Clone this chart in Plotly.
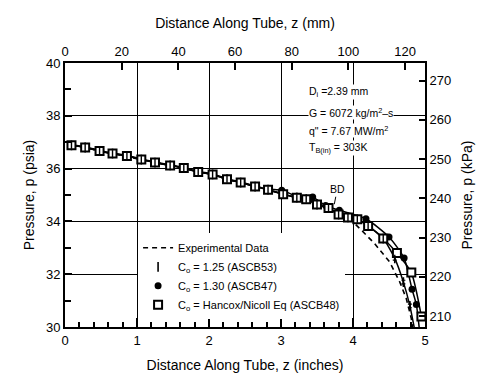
import plotly.graph_objects as go

# ---- data: distance along tube z (inches), pressure p (psia) ----
z_exp = [0.09, 0.28, 0.48, 0.66, 0.86, 1.06, 1.25, 1.46, 1.65, 1.85, 2.05, 2.25, 2.44, 2.64,
         2.82, 3.03, 3.22, 3.42, 3.62, 3.86, 4.00, 4.12, 4.30, 4.51, 4.65, 4.74, 4.81, 4.84]
p_exp = [36.88, 36.80, 36.67, 36.57, 36.48, 36.34, 36.23, 36.12, 36.02, 35.87, 35.78, 35.60, 35.47, 35.32,
         35.20, 35.03, 34.90, 34.78, 34.55, 34.20, 33.98, 33.66, 33.16, 32.46, 31.70, 31.08, 30.32, 29.70]

# C0 = Hancox/Nicoll Eq (ASCB48)
z_hn = [0.09, 0.28, 0.48, 0.66, 0.86, 1.06, 1.25, 1.46, 1.65, 1.85, 2.05, 2.25, 2.44, 2.64,
        2.82, 3.03, 3.22, 3.35, 3.50, 3.66, 3.80, 3.93, 4.06, 4.21, 4.42, 4.61, 4.81, 4.95]
p_hn = [36.88, 36.80, 36.67, 36.57, 36.48, 36.34, 36.23, 36.12, 36.02, 35.87, 35.78, 35.60, 35.47, 35.32,
        35.20, 35.03, 34.90, 34.84, 34.64, 34.51, 34.26, 34.15, 34.08, 33.83, 33.35, 32.80, 32.06, 30.40]

# C0 = 1.30 (ASCB47)
z_130 = [0.09, 0.28, 0.48, 0.66, 0.86, 1.06, 1.25, 1.46, 1.65, 1.85, 2.05, 2.25, 2.44, 2.64,
         2.82, 3.01, 3.22, 3.44, 3.62, 3.81, 4.18, 4.50, 4.71, 4.82, 4.88, 4.93]
p_130 = [36.90, 36.82, 36.69, 36.59, 36.50, 36.36, 36.25, 36.14, 36.04, 35.89, 35.80, 35.62, 35.49, 35.34,
         35.22, 35.18, 34.95, 34.92, 34.60, 34.42, 34.10, 33.41, 32.61, 31.43, 30.85, 29.70]

# C0 = 1.25 (ASCB53)
z_125 = [0.09, 0.28, 0.48, 0.66, 0.86, 1.06, 1.25, 1.46, 1.65, 1.85, 2.05, 2.25, 2.44, 2.64,
         2.82, 3.03, 3.22, 3.35, 3.50, 3.66, 3.80, 3.93, 4.06, 4.21, 4.42, 4.58, 4.70, 4.79, 4.87]
p_125 = [36.88, 36.80, 36.67, 36.57, 36.48, 36.34, 36.23, 36.12, 36.02, 35.87, 35.78, 35.60, 35.47, 35.32,
         35.20, 35.03, 34.90, 34.84, 34.64, 34.51, 34.26, 34.15, 34.08, 33.83, 33.35, 32.60, 31.70, 30.80, 29.70]

x_ticks_in = [0, 1, 2, 3, 4, 5]
x_ticks_mm = [0, 20, 40, 60, 80, 100, 120]
y_ticks_psia = [30, 32, 34, 36, 38, 40]
y_ticks_kpa = [210, 220, 230, 240, 250, 260, 270]

info_lines = ["D<sub>i</sub> =2.39 mm",
              "G = 6072 kg/m<sup>2</sup>–s",
              "q\" = 7.67 MW/m<sup>2</sup>",
              "T<sub>B(in)</sub> = 303K"]
info_y = [38.89, 38.13, 37.45, 36.77]

FONT = "Liberation Sans"
fig = go.Figure()

# Experimental dashed
fig.add_trace(go.Scatter(x=z_exp, y=p_exp, mode="lines", name="Experimental Data",
                         line=dict(color="black", width=1.6, dash="5px,4px")))
# model curves (lines)
for zz, pp in [(z_130, p_130), (z_125, p_125), (z_hn, p_hn)]:
    fig.add_trace(go.Scatter(x=zz, y=pp, mode="lines", showlegend=False,
                             line=dict(color="black", width=1.5, shape="spline", smoothing=0.6)))
# markers
fig.add_trace(go.Scatter(x=z_125, y=p_125, mode="markers", name="C<sub>o</sub> = 1.25 (ASCB53)",
                         marker=dict(symbol="line-ns-open", size=7, color="black",
                                     line=dict(color="black", width=1.6)),
                         error_y=dict(type="constant", value=0.07, color="black", thickness=1.2, width=2)))
fig.add_trace(go.Scatter(x=z_130, y=p_130, mode="markers", name="C<sub>o</sub> = 1.30 (ASCB47)",
                         marker=dict(symbol="circle", size=7, color="black")))
fig.add_trace(go.Scatter(x=z_hn, y=p_hn, mode="markers", name="C<sub>o</sub> = Hancox/Nicoll Eq (ASCB48)",
                         marker=dict(symbol="square", size=8, color="white", line=dict(color="black", width=2))))
# I markers on top of squares (no legend)
fig.add_trace(go.Scatter(x=z_125, y=p_125, mode="markers", showlegend=False,
                         marker=dict(symbol="line-ns-open", size=5, color="black",
                                     line=dict(color="black", width=1.4))))
# dummy trace for secondary axes
fig.add_trace(go.Scatter(x=[None], y=[None], xaxis="x2", yaxis="y2", showlegend=False, hoverinfo="skip"))

for t, yy in zip(info_lines, info_y):
    fig.add_annotation(x=3.375, y=yy, xref="x", yref="y", text=t, showarrow=False,
                       xanchor="left", yanchor="middle", bgcolor="white", borderpad=0,
                       font=dict(family=FONT, size=10.5, color="black"))
fig.add_annotation(x=3.74, y=34.65, xref="x", yref="y", text="BD", showarrow=True,
                   arrowhead=0, arrowwidth=1, arrowcolor="black", ax=3, ay=-15,
                   font=dict(family=FONT, size=10.5, color="black"))

axis_common = dict(showline=True, linecolor="black", linewidth=2, ticks="inside",
                   tickcolor="black", tickwidth=1.5, zeroline=False, automargin=False,
                   tickfont=dict(family=FONT, size=13, color="black"))

fig.update_layout(
    width=484, height=379,
    margin=dict(l=65, r=59, t=63, b=52),
    paper_bgcolor="white", plot_bgcolor="white",
    font=dict(family=FONT, color="black"),
    legend=dict(x=0.203, y=0.355, xanchor="left", yanchor="top", bgcolor="white",
                borderwidth=0, font=dict(family=FONT, size=11, color="black"),
                tracegroupgap=0, itemwidth=30),
    xaxis=dict(range=[0, 5], tickvals=x_ticks_in, showgrid=True, gridcolor="black", gridwidth=1,
               ticklen=9, minor=dict(dtick=0.2, ticks="inside", ticklen=5, tickwidth=1.5,
                                     tickcolor="black", showgrid=False),
               title=dict(text="Distance Along Tube, z (inches)", font=dict(family=FONT, size=14), standoff=14),
               **axis_common),
    yaxis=dict(range=[30, 40], tickvals=y_ticks_psia, showgrid=True, gridcolor="black", gridwidth=1,
               ticklen=7, minor=dict(dtick=1, ticks="inside", ticklen=6, tickwidth=1.5,
                                     tickcolor="black", showgrid=False),
               title=dict(text="Pressure, p (psia)", font=dict(family=FONT, size=14), standoff=8),
               **axis_common),
    xaxis2=dict(overlaying="x", side="top", anchor="y", range=[0, 127], tickvals=x_ticks_mm,
                showgrid=False, ticklen=7,
                title=dict(text="Distance Along Tube, z (mm)", font=dict(family=FONT, size=14), standoff=12),
                **axis_common),
    yaxis2=dict(overlaying="y", side="right", anchor="x", range=[207.2, 274.5], tickvals=y_ticks_kpa,
                showgrid=False, ticklen=6,
                title=dict(text="Pressure, p (kPa)", font=dict(family=FONT, size=14), standoff=12),
                **axis_common),
)

fig.write_html("out.html")
